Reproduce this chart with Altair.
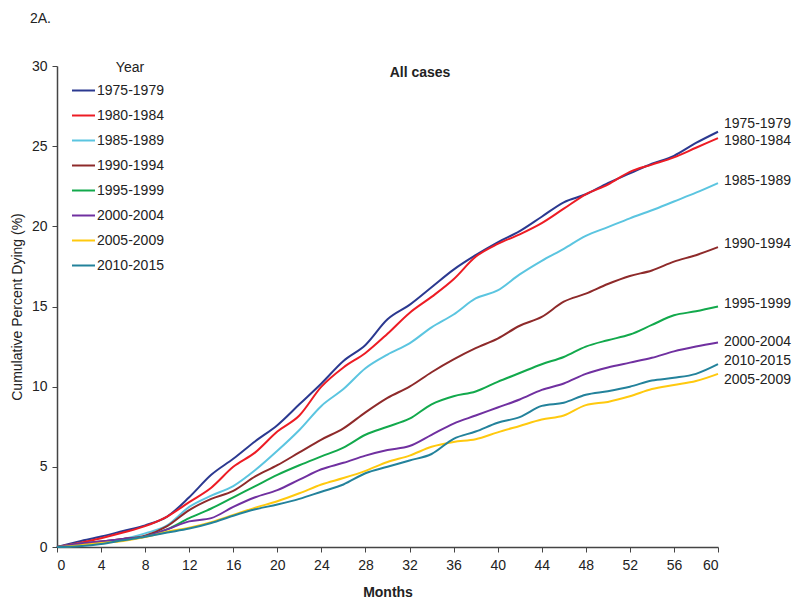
import altair as alt
import pandas as pd

months = list(range(0, 61, 2))

series_names = ["1975-1979", "1980-1984", "1985-1989", "1990-1994",
                "1995-1999", "2000-2004", "2005-2009", "2010-2015"]
colors = ["#2B3990", "#ED1C24", "#5BC5E0", "#8E2A2A",
          "#12A94C", "#7030A0", "#FFC90E", "#23829B"]

v1975 = [0, 0.35, 0.65, 1.0, 1.35, 1.9, 3.1, 4.5, 5.5, 6.6, 7.6, 8.9, 10.2, 11.6, 12.6, 14.2,
         15.1, 16.2, 17.3, 18.2, 19.0, 19.7, 20.6, 21.5, 22.0, 22.7, 23.3, 23.9, 24.4, 25.2, 25.9]
v1980 = [0, 0.25, 0.55, 0.9, 1.3, 1.9, 2.8, 3.7, 5.0, 5.9, 7.2, 8.2, 10.0, 11.2, 12.1, 13.3,
         14.6, 15.6, 16.7, 18.1, 18.9, 19.5, 20.2, 21.1, 22.0, 22.6, 23.4, 23.85, 24.3, 24.9, 25.5]
v1985 = [0, 0.2, 0.35, 0.5, 0.85, 1.35, 2.5, 3.2, 3.8, 4.8, 6.0, 7.3, 8.8, 9.85, 11.15, 12.0,
         12.7, 13.7, 14.5, 15.5, 16.0, 17.0, 17.85, 18.6, 19.4, 19.95, 20.5, 21.0, 21.55, 22.1, 22.7]
v1990 = [0, 0.2, 0.35, 0.5, 0.7, 1.3, 2.3, 3.0, 3.5, 4.4, 5.1, 5.9, 6.7, 7.4, 8.4, 9.3,
         10.0, 10.9, 11.7, 12.4, 13.0, 13.8, 14.35, 15.3, 15.8, 16.4, 16.9, 17.25, 17.8, 18.2, 18.7]
v1995 = [0, 0.15, 0.3, 0.45, 0.65, 1.1, 1.8, 2.4, 3.1, 3.8, 4.5, 5.1, 5.65, 6.2, 7.0, 7.5,
         8.0, 8.9, 9.4, 9.7, 10.3, 10.85, 11.4, 11.85, 12.5, 12.9, 13.25, 13.85, 14.45, 14.7, 15.0]
v2000 = [0, 0.2, 0.35, 0.5, 0.65, 1.1, 1.6, 1.8, 2.5, 3.1, 3.55, 4.2, 4.85, 5.25, 5.7, 6.05,
         6.3, 7.0, 7.7, 8.2, 8.7, 9.2, 9.8, 10.2, 10.8, 11.2, 11.5, 11.8, 12.2, 12.5, 12.75]
v2005 = [0, 0.1, 0.25, 0.38, 0.62, 0.95, 1.2, 1.55, 2.0, 2.45, 2.85, 3.35, 3.9, 4.3, 4.75, 5.3,
         5.7, 6.25, 6.55, 6.72, 7.15, 7.55, 7.95, 8.2, 8.85, 9.05, 9.4, 9.85, 10.1, 10.35, 10.8]
v2010 = [0, 0.05, 0.18, 0.42, 0.64, 0.9, 1.15, 1.5, 1.95, 2.35, 2.65, 3.0, 3.45, 3.9, 4.6, 5.0,
         5.4, 5.8, 6.75, 7.2, 7.75, 8.1, 8.8, 9.0, 9.5, 9.72, 10.0, 10.38, 10.55, 10.8, 11.4]

values = [v1975, v1980, v1985, v1990, v1995, v2000, v2005, v2010]

# end-label positions (y value of each label's centre at month 60)
label_y = [26.4, 25.3, 22.85, 18.9, 15.15, 12.8, 10.4, 11.6]

rows = []
for name, vals in zip(series_names, values):
    for m, v in zip(months, vals):
        rows.append({"Month": m, "Percent": v, "Year": name})
df = pd.DataFrame(rows)

labels_df = pd.DataFrame({"Year": series_names, "Month": [60] * 8, "Percent": label_y})

FONT = "Liberation Sans"
TXT = "#222222"

x_scale = alt.Scale(domain=[0, 60], nice=False)
y_scale = alt.Scale(domain=[0, 30], nice=False)

lines = alt.Chart(df).mark_line(strokeWidth=2, interpolate="monotone").encode(
    x=alt.X("Month:Q", scale=x_scale,
            axis=alt.Axis(title="Months", values=list(range(0, 61, 4)), grid=False,
                          tickSize=5, labelPadding=6, titlePadding=13,
                          titleFontWeight="bold")),
    y=alt.Y("Percent:Q", scale=y_scale,
            axis=alt.Axis(title="Cumulative Percent Dying (%)", values=[0, 5, 10, 15, 20, 25, 30],
                          grid=False, tickSize=5, labelPadding=5, titlePadding=7,
                          titleFontWeight="normal")),
    color=alt.Color("Year:N", scale=alt.Scale(domain=series_names, range=colors),
                    legend=alt.Legend(title=None, orient="none", legendX=14, legendY=12,
                                      symbolType="stroke", symbolSize=529, symbolStrokeWidth=2,
                                      rowPadding=5, labelFontSize=14,
                                      labelOffset=1, labelFont=FONT,
                                      labelColor=TXT)),
)

end_labels = alt.Chart(labels_df).mark_text(align="left", baseline="middle", dx=6,
                                            fontSize=14, font=FONT, color=TXT).encode(
    x=alt.X("Month:Q", scale=x_scale),
    y=alt.Y("Percent:Q", scale=y_scale),
    text="Year:N",
)

title_df = pd.DataFrame({"t": ["All cases"]})
title = alt.Chart(title_df).mark_text(fontSize=14, fontWeight="bold", font=FONT, color=TXT,
                                      align="center", baseline="middle").encode(
    x=alt.value(363), y=alt.value(7), text="t:N")

legend_title_df = pd.DataFrame({"t": ["Year"]})
legend_title = alt.Chart(legend_title_df).mark_text(fontSize=14, font=FONT, color=TXT,
                                                    align="center", baseline="middle").encode(
    x=alt.value(73), y=alt.value(2), text="t:N")

panel_df = pd.DataFrame({"t": ["2A."]})
panel = alt.Chart(panel_df).mark_text(fontSize=14, font=FONT, color=TXT,
                                      align="left", baseline="middle").encode(
    x=alt.value(-27), y=alt.value(-47), text="t:N")

chart = alt.layer(lines, end_labels, title, legend_title, panel).properties(
    width=661, height=481,
    autosize=alt.AutoSizeParams(type="none"),
    padding={"left": 49, "top": 58, "right": 74, "bottom": 52},
).configure_axis(
    labelFont=FONT, titleFont=FONT, labelFontSize=14, titleFontSize=14,
    labelColor=TXT, titleColor=TXT, domainColor="#444444", tickColor="#444444",
    domainWidth=1.5,
).configure_view(stroke=None)

chart.save("out.html", embed_options={"renderer": "svg", "actions": False})
